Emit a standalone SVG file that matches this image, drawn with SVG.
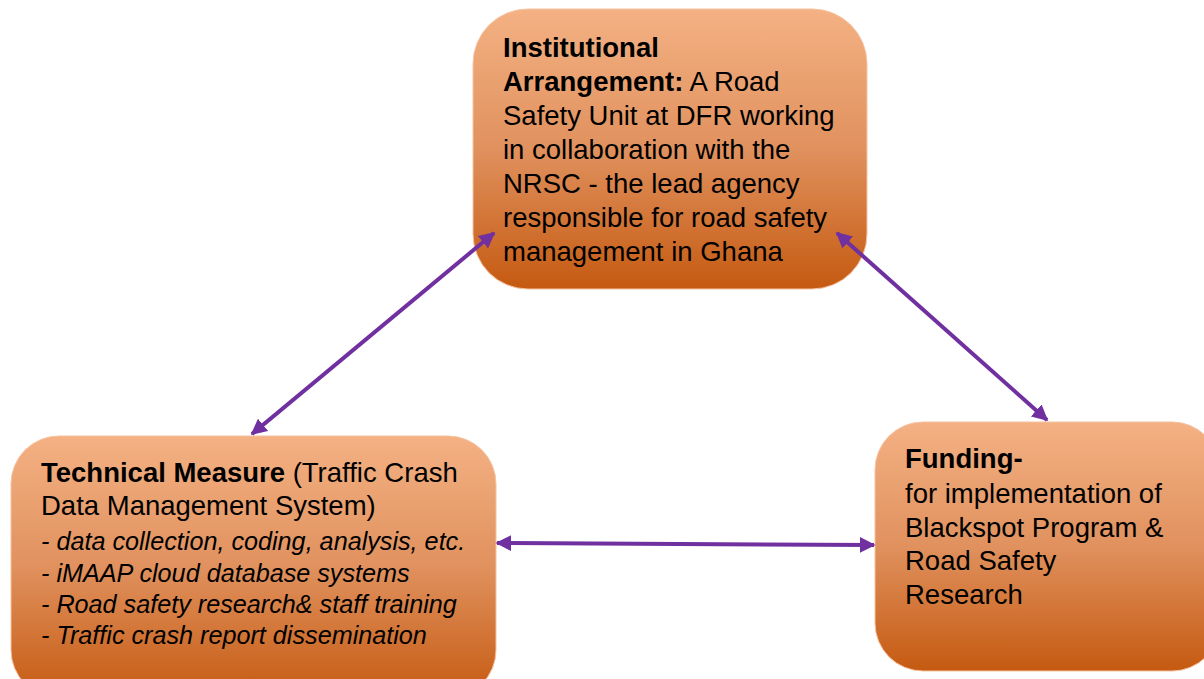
<svg xmlns="http://www.w3.org/2000/svg" width="1204" height="679" viewBox="0 0 1204 679">
  <defs>
    <linearGradient id="boxFill" x1="0" y1="0" x2="0" y2="1">
      <stop offset="0" stop-color="#F4B183"/>
      <stop offset="0.5" stop-color="#E0915E"/>
      <stop offset="1" stop-color="#C55A11"/>
    </linearGradient>
    <marker id="head" viewBox="0 0 10 10" refX="9" refY="5" markerWidth="4" markerHeight="4" orient="auto-start-reverse" markerUnits="strokeWidth">
      <path d="M0,0 L10,5 L0,10 z" fill="#7030A0"/>
    </marker>
    <style>
      .box { fill: url(#boxFill); stroke: #F6C2A0; stroke-width: 1; }
      .txt { font-family: "Liberation Sans", Arial, sans-serif; font-size: 27.5px; fill: #000; }
      .b { font-weight: bold; }
      .it { font-family: "Liberation Sans", Arial, sans-serif; font-size: 25.2px; font-style: italic; fill: #000; }
      .link { stroke: #7030A0; stroke-width: 4; fill: none; marker-start: url(#head); marker-end: url(#head); }
    </style>
  </defs>
  <rect width="1204" height="679" fill="#FFFFFF"/>

  <g id="institutional">
    <rect class="box" x="473" y="9" width="394" height="280" rx="55" ry="55"/>
    <text class="txt" x="503" y="57"><tspan class="b">Institutional</tspan></text>
    <text class="txt" x="503" y="91"><tspan class="b">Arrangement:</tspan> A Road</text>
    <text class="txt" x="503" y="125">Safety Unit at DFR working</text>
    <text class="txt" x="503" y="159">in collaboration with the</text>
    <text class="txt" x="503" y="193">NRSC - the lead agency</text>
    <text class="txt" x="503" y="227">responsible for road safety</text>
    <text class="txt" x="503" y="261">management in Ghana</text>
  </g>

  <g id="technical">
    <rect class="box" x="11" y="436" width="485" height="262" rx="48" ry="48"/>
    <text class="txt" x="41" y="482"><tspan class="b">Technical Measure</tspan> (Traffic Crash</text>
    <text class="txt" x="41" y="515">Data Management System)</text>
    <text class="it" x="41" y="550">- data collection, coding, analysis, etc.</text>
    <text class="it" x="41" y="582">- iMAAP cloud database systems</text>
    <text class="it" x="41" y="613">- Road safety research&amp; staff training</text>
    <text class="it" x="41" y="644">- Traffic crash report dissemination</text>
  </g>

  <g id="funding">
    <rect class="box" x="875" y="422" width="345" height="249" rx="48" ry="48"/>
    <text class="txt" x="905" y="468"><tspan class="b">Funding-</tspan></text>
    <text class="txt" x="905" y="503">for implementation of</text>
    <text class="txt" x="905" y="537">Blackspot Program &amp;</text>
    <text class="txt" x="905" y="570">Road Safety</text>
    <text class="txt" x="905" y="604">Research</text>
  </g>

  <!-- two-way links, drawn above the boxes -->
  <g id="connectors">
    <line class="link" x1="494" y1="233" x2="252" y2="434"/>
    <line class="link" x1="837" y1="233" x2="1047" y2="420"/>
    <line class="link" x1="497" y1="543" x2="874" y2="545"/>
  </g>
</svg>
